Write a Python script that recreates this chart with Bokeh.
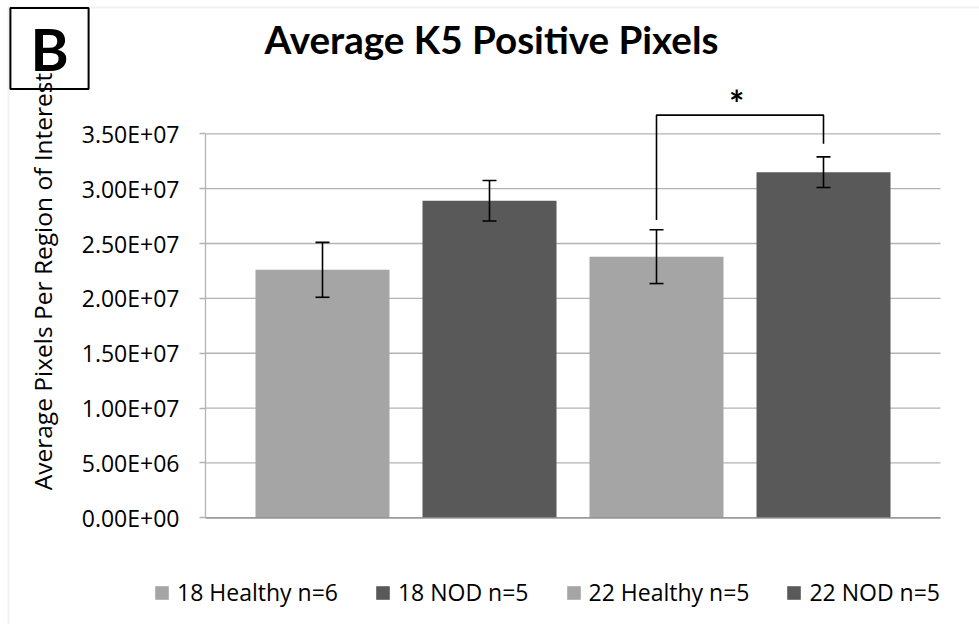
import math
from bokeh.plotting import figure
from bokeh.models import (ColumnDataSource, Whisker, TeeHead, Label, Legend, LegendItem,
                          FixedTicker, Range1d, BoxAnnotation)
from bokeh.embed import file_html
from bokeh.resources import INLINE

# ---- data ----
groups = ["18 Healthy n=6", "18 NOD n=5", "22 Healthy n=5", "22 NOD n=5"]
positions = [1, 2, 3, 4]
means = [2.26e7, 2.89e7, 2.38e7, 3.15e7]
errors = [2.5e6, 1.85e6, 2.45e6, 1.4e6]
colors = ["#a5a5a5", "#595959", "#a5a5a5", "#595959"]
y_ticks = [0, 5000000, 10000000, 15000000, 20000000, 25000000, 30000000, 35000000]
y_tick_labels = ["0.00E+00", "5.00E+06", "1.00E+07", "1.50E+07",
                 "2.00E+07", "2.50E+07", "3.00E+07", "3.50E+07"]
title_text = "Average K5 Positive Pixels"
y_label = "Average Pixels Per Region of Interest"
panel_letter = "B"
sig_mark = "*"
sig_pair = [2, 3]                 # indices of compared bars
bracket_top = 3.67e7
bracket_ends = [2.715e7, 3.41e7]

# ---- layout helpers (page pixels -> data units) ----
W, H = 979, 624
X_PX_PER_UNIT = 167.0
BAR1_PX = 322.0
ZERO_PY = 517.3
Y_UNIT_PER_PX = 35000000 / 384.0


def sx(px):
    return 1 + (px - BAR1_PX) / X_PX_PER_UNIT


def sy(py):
    return (ZERO_PY - py) * Y_UNIT_PER_PX


plot_left, plot_right = sx(205), sx(940)

src = ColumnDataSource(dict(
    x=positions, top=means, color=colors, label=groups,
    upper=[m + e for m, e in zip(means, errors)],
    lower=[m - e for m, e in zip(means, errors)],
))

FONT = "Open Sans"
TFONT = "Lato"
GRID = "#b3b3b3"

p = figure(width=W, height=H, output_backend="svg", toolbar_location=None,
           x_range=Range1d(sx(0), sx(W)), y_range=Range1d(sy(H), sy(0)),
           x_axis_location=None, title=None,
           min_border_left=0, min_border_right=0, min_border_top=0, min_border_bottom=0)
p.outline_line_color = None
p.background_fill_color = "white"
p.border_fill_color = "white"
p.xgrid.visible = False
p.ygrid.visible = False

# chart border (left & top edges visible)
p.add_layout(BoxAnnotation(left=sx(8), top=sy(7), right=sx(W + 50), bottom=sy(H + 50),
                           fill_alpha=0, line_color="#d0d0d0", line_width=2))

# horizontal gridlines within the plot area
p.segment(x0=plot_left, x1=plot_right, y0=y_ticks, y1=y_ticks,
          line_color=GRID, line_width=1.3)

bars = p.vbar(x="x", top="top", bottom=0, width=0.8024, fill_color="color",
              line_color=None, source=src)

# baseline over the bars
p.segment(x0=plot_left, x1=plot_right, y0=y_ticks[0], y1=y_ticks[0],
          line_color="#8c8c8c", line_width=1.3)

# y axis at the plot area's left edge
ax = p.yaxis[0]
ax.fixed_location = plot_left
ax.ticker = FixedTicker(ticks=y_ticks)
ax.major_label_overrides = dict(zip(y_ticks, y_tick_labels))
ax.bounds = (0, 35000000)
ax.axis_line_color = GRID
ax.axis_line_width = 1.3
ax.major_tick_line_color = GRID
ax.major_tick_line_width = 1.3
ax.major_tick_out = 6
ax.major_tick_in = 0
ax.minor_tick_line_color = None
ax.major_label_text_font = FONT
ax.major_label_text_font_size = "23px"
ax.major_label_text_color = "black"
ax.major_label_standoff = 20

# error bars
head_kw = dict(size=14, line_color="black", line_width=1.6)
p.add_layout(Whisker(base="x", upper="upper", lower="lower", source=src,
                     line_color="black", line_width=1.6, level="overlay",
                     upper_head=TeeHead(**head_kw), lower_head=TeeHead(**head_kw)))

# significance bracket
xa, xb = positions[sig_pair[0]], positions[sig_pair[1]]
p.line([xa, xa, xb, xb], [bracket_ends[0], bracket_top, bracket_top, bracket_ends[1]],
       line_color="black", line_width=1.6)
p.add_layout(Label(x=(xa + xb) / 2 - 0.02, y=sy(102), text=sig_mark, text_font=TFONT,
                   text_font_style="bold", text_font_size="36px", text_align="center",
                   text_baseline="alphabetic", text_color="black"))

# title
p.add_layout(Label(x=sx(491), y=sy(38), text=title_text, text_font=TFONT,
                   text_font_style="bold", text_font_size="38.6px", text_align="center",
                   text_baseline="alphabetic", text_color="black"))

# panel letter box
p.add_layout(Label(x=sx(49), y=sy(48), text=panel_letter, text_font=TFONT,
                   text_font_style="bold", text_font_size="58px", text_align="center",
                   text_baseline="middle", text_color="black",
                   border_line_color="black", border_line_width=2,
                   background_fill_color="white", padding=(20, 6)))

# y axis label
p.add_layout(Label(x=sx(42), y=sy(281), text=y_label, angle=math.pi / 2,
                   text_font=FONT, text_font_size="24.5px", text_align="center",
                   text_baseline="middle", text_color="black"))

legend = Legend(items=[LegendItem(label=groups[i], renderers=[bars], index=i) for i in range(4)],
                orientation="horizontal", location=(153, 16),
                glyph_width=17, glyph_height=17, label_standoff=7, spacing=36,
                padding=0, margin=0, border_line_color=None, background_fill_alpha=0,
                label_text_font=FONT, label_text_font_size="23px", label_text_color="black")
p.add_layout(legend)

open("out.html", "w").write(file_html(p, INLINE))
